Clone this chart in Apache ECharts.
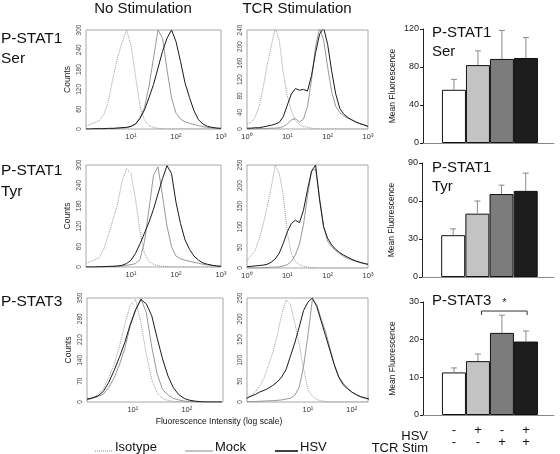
<!DOCTYPE html>
<html><head><meta charset="utf-8">
<script src="https://cdn.jsdelivr.net/npm/echarts@6.0.0/dist/echarts.min.js"></script>
<style>html,body{margin:0;padding:0;background:#fff}#c{width:560px;height:454px}</style>
</head><body><div id="c"></div>
<script>
// ---------- DATA ----------
// log10 fluorescence positions
const logX_0_3 = [0,0.1,0.2,0.3,0.4,0.5,0.6,0.7,0.8,0.9,1.0,1.1,1.2,1.3,1.4,1.5,1.6,1.7,1.8,1.9,2.0,2.1,2.2,2.3,2.4,2.5,2.6,2.7,2.8,2.9,3.0];
const logX_r3c1 = [0.15,0.25,0.35,0.45,0.55,0.65,0.75,0.85,0.95,1.05,1.15,1.25,1.35,1.45,1.55,1.65,1.75,1.85,1.95,2.05,2.15,2.25,2.35,2.45,2.55,2.65];
const logX_r3c2 = [-0.4,-0.3,-0.2,-0.1,0,0.1,0.2,0.3,0.4,0.5,0.6,0.7,0.8,0.9,1.0,1.1,1.2,1.3,1.4,1.5,1.6,1.7,1.8,1.9,2.0,2.1,2.2,2.3,2.4];

// P-STAT1 Ser, no stimulation
const serNoIso  = [10,14,20,26,45,85,155,215,262,300,255,160,70,25,10,5,2,1,0,0,0,0,0,0,0,0,0,0,0,0,0];
const serNoMock = [0,0,0,0,0,1,1,2,3,4,8,15,35,65,130,215,300,275,180,95,48,30,22,17,14,10,7,5,3,2,1];
const serNoHsv  = [0,0,1,1,1,2,2,3,4,5,8,15,32,58,95,135,185,235,275,300,265,205,140,95,55,28,15,8,5,3,2];
// P-STAT1 Ser, TCR stimulation
const serTcrIso  = [12,16,28,55,100,155,200,245,215,135,80,44,20,10,6,4,2,1,0,0,0,0,0,0,0,0,0,0,0,0,0];
const serTcrMock = [0,0,0,1,1,1,2,2,3,6,12,22,25,17,24,55,120,200,245,215,150,90,55,40,32,26,22,17,13,10,7];
const serTcrHsv  = [2,2,3,3,5,7,9,12,16,30,58,85,98,94,96,92,130,185,230,245,205,140,85,50,36,28,22,17,13,10,6];
// P-STAT1 Tyr, no stimulation
const tyrNoIso  = [12,16,22,28,55,95,140,185,250,290,275,200,105,40,17,8,4,2,1,0,0,0,0,0,0,0,0,0,0,0,0];
const tyrNoMock = [0,0,0,0,1,1,2,2,3,5,7,10,22,75,170,270,295,210,120,60,32,24,20,17,14,11,8,6,5,3,2];
const tyrNoHsv  = [0,0,0,1,1,2,2,3,5,10,20,40,68,100,132,170,215,260,298,275,190,128,80,52,32,20,12,8,5,3,2];
// P-STAT1 Tyr, TCR stimulation
const tyrTcrIso  = [19,30,42,70,105,150,195,250,230,175,85,35,16,8,4,2,1,0,0,0,0,0,0,0,0,0,0,0,0,0,0];
const tyrTcrMock = [0,0,0,0,1,1,2,2,3,5,8,16,32,58,105,175,235,240,170,100,65,52,42,35,28,23,19,16,13,11,9];
const tyrTcrHsv  = [3,4,5,6,7,9,14,22,36,60,88,108,116,110,140,190,235,250,165,100,72,56,45,37,31,26,21,17,14,11,9];
// P-STAT3, no stimulation
const s3NoIso  = [7,14,25,45,80,125,185,260,325,345,265,160,75,30,12,5,2,1,0,0,0,0,0,0,0,0];
const s3NoMock = [7,12,18,26,48,80,125,180,255,310,348,300,185,95,42,24,12,7,3,2,1,0,0,0,0,0];
const s3NoHsv  = [10,14,20,35,65,105,150,200,260,310,345,330,290,215,145,88,48,25,12,6,3,1,0,0,0,0];
// P-STAT3, TCR stimulation
const s3TcrIso  = [9,15,24,38,58,88,120,160,210,245,235,190,140,80,30,14,6,3,1,0,0,0,0,0,0,0,0,0,0];
const s3TcrMock = [1,1,1,2,2,3,3,4,5,7,9,16,35,85,160,245,235,200,170,130,90,62,46,34,24,17,12,9,7];
const s3TcrHsv  = [9,14,18,24,28,33,40,48,60,78,110,142,180,220,240,250,230,195,160,125,90,60,42,32,24,18,13,10,7];

// Bar charts: mean fluorescence and SD (upper error)
const barPos   = [0,1,2,3];
const serMean  = [56,82,88.5,89.5];
const serSd    = [11,15,30,21.5];
const tyrMean  = [33,50,65.5,68];
const tyrSd    = [5,10,7,14];
const s3Mean   = [11.3,14.3,21.8,19.5];
const s3Sd     = [1.2,1.9,4.7,2.8];
const hsvSigns = ['-','+','-','+'];
const tcrSigns = ['-','-','+','+'];
const sigBracket = [[1.15,3.05,27.6]];

const yTicksSer = {max:120, interval:40};
const yTicksTyr = {max:90, interval:30};
const yTicksS3  = {max:30, interval:10};

// ---------- STYLE / LAYOUT ----------
const FONT = '"Liberation Sans", Arial, Helvetica, sans-serif';
const sup = {'0':'\u2070','1':'\u00b9','2':'\u00b2','3':'\u00b3'};
const barColors = ['#ffffff','#c3c3c3','#7c7c7c','#1d1d1d'];

const panels = [
  {grid:{left:86,top:30,width:135,height:99}, xr:[0,3], y:{max:300,interval:60}, lab:[1,2,3], counts:true, x:logX_0_3, iso:serNoIso, mock:serNoMock, hsv:serNoHsv},
  {grid:{left:247,top:30,width:121,height:99}, xr:[0,3], y:{max:240,interval:40}, lab:[0,1,2,3], counts:false, x:logX_0_3, iso:serTcrIso, mock:serTcrMock, hsv:serTcrHsv},
  {grid:{left:86,top:165,width:135,height:102}, xr:[0,3], y:{max:300,interval:60}, lab:[1,2,3], counts:true, x:logX_0_3, iso:tyrNoIso, mock:tyrNoMock, hsv:tyrNoHsv},
  {grid:{left:247,top:165,width:121,height:103}, xr:[0,3], y:{max:250,interval:50}, lab:[0,1,2,3], counts:false, x:logX_0_3, iso:tyrTcrIso, mock:tyrTcrMock, hsv:tyrTcrHsv},
  {grid:{left:87,top:298,width:136,height:104}, xr:[0.15,2.67], y:{max:350,interval:70}, lab:[1,2], counts:true, x:logX_r3c1, iso:s3NoIso, mock:s3NoMock, hsv:s3NoHsv},
  {grid:{left:247,top:298,width:121,height:104}, xr:[-0.39,2.37], y:{max:250,interval:50}, lab:[1,2], counts:false, x:logX_r3c2, iso:s3TcrIso, mock:s3TcrMock, hsv:s3TcrHsv}
];
const bars = [
  {grid:{left:423,top:29,width:131,height:114}, mean:serMean, sd:serSd, y:yTicksSer, signs:false},
  {grid:{left:422,top:163,width:132,height:114}, mean:tyrMean, sd:tyrSd, y:yTicksTyr, signs:false},
  {grid:{left:423,top:302,width:131,height:113}, mean:s3Mean, sd:s3Sd, y:yTicksS3, signs:true}
];

const grids=[], xAxes=[], yAxes=[], series=[];
const pairs = (xs, ys) => xs.map((x,i)=>[x, ys[i]]);

panels.forEach((p,i)=>{
  grids.push(Object.assign({show:true, borderColor:'#a8a8a8', borderWidth:1, backgroundColor:'transparent'}, p.grid));
  xAxes.push({gridIndex:i, type:'value', min:p.xr[0], max:p.xr[1],
    axisLine:{show:false}, axisTick:{show:false}, splitLine:{show:false},
    axisLabel:{customValues:p.lab, formatter:v=>'10'+sup[String(Math.round(v))], fontSize:7.5, color:'#333', margin:4, fontFamily:FONT}});
  yAxes.push({gridIndex:i, type:'value', min:0, max:p.y.max, interval:p.y.interval,
    axisLine:{show:false, onZero:false}, axisTick:{show:false}, splitLine:{show:false},
    axisLabel:{rotate:90, fontSize:6.5, color:'#444', margin:3, fontFamily:FONT},
    name:p.counts?'Counts':'', nameLocation:'middle', nameRotate:90, nameGap:14,
    nameTextStyle:{fontSize:8.5, color:'#222', fontFamily:FONT}});
  series.push({type:'line', xAxisIndex:i, yAxisIndex:i, name:'Isotype', data:pairs(p.x,p.iso), symbol:'none', clip:true,
    lineStyle:{color:'#9a9a9a', width:1, type:[1,1]}, z:2});
  series.push({type:'line', xAxisIndex:i, yAxisIndex:i, name:'Mock', data:pairs(p.x,p.mock), symbol:'none', clip:true,
    lineStyle:{color:'#8c8c8c', width:0.9}, z:3});
  series.push({type:'line', xAxisIndex:i, yAxisIndex:i, name:'HSV', data:pairs(p.x,p.hsv), symbol:'none', clip:true,
    lineStyle:{color:'#1a1a1a', width:1}, z:4});
});

bars.forEach((b,j)=>{
  const gi = panels.length + j;
  grids.push(b.grid);
  xAxes.push({gridIndex:gi, type:'value', min:-1.29, max:4.17,
    axisLine:{show:true, onZero:false, lineStyle:{color:'#8a8a8a', width:1}}, axisTick:{show:false}, splitLine:{show:false},
    axisLabel: b.signs ? {customValues:barPos, formatter:v=>hsvSigns[Math.round(v)]+'\n'+tcrSigns[Math.round(v)],
      fontSize:13, lineHeight:12, color:'#111', margin:9, fontFamily:FONT} : {show:false}});
  yAxes.push({gridIndex:gi, type:'value', min:0, max:b.y.max, interval:b.y.interval,
    axisLine:{show:true, onZero:false, lineStyle:{color:'#222', width:1}}, axisTick:{show:true, length:3, lineStyle:{color:'#222'}},
    splitLine:{show:false}, axisLabel:{fontSize:9, color:'#222', margin:4, fontFamily:FONT},
    name:'Mean Fluorescence', nameLocation:'middle', nameRotate:90, nameGap:26,
    nameTextStyle:{fontSize:8.5, color:'#222', fontFamily:FONT}});
  series.push({type:'bar', xAxisIndex:gi, yAxisIndex:gi, barWidth:24,
    data:b.mean.map((m,k)=>({value:[barPos[k], m], itemStyle:{color:barColors[k]}})),
    itemStyle:{borderColor:'#111', borderWidth:1}, z:2});
  series.push({type:'custom', xAxisIndex:gi, yAxisIndex:gi, z:3,
    data:b.mean.map((m,k)=>[barPos[k], m, b.sd[k]]),
    renderItem:(params, api)=>{
      const x=api.value(0), m=api.value(1), e=api.value(2);
      const p0=api.coord([x,m]), p1=api.coord([x,m+e]);
      return {type:'group', children:[
        {type:'line', shape:{x1:p0[0],y1:p0[1],x2:p1[0],y2:p1[1]}, style:{stroke:'#8a8a8a', lineWidth:1}},
        {type:'line', shape:{x1:p1[0]-3,y1:p1[1],x2:p1[0]+3,y2:p1[1]}, style:{stroke:'#8a8a8a', lineWidth:1}}
      ]};
    }});
  if (b.signs) {
    series.push({type:'custom', xAxisIndex:gi, yAxisIndex:gi, z:4, data:sigBracket,
      renderItem:(params, api)=>{
        const a=api.coord([api.value(0), api.value(2)]), c=api.coord([api.value(1), api.value(2)]);
        return {type:'group', children:[
          {type:'polyline', shape:{points:[[a[0],a[1]+4],[a[0],a[1]],[c[0],c[1]],[c[0],c[1]+4]]}, style:{stroke:'#333', lineWidth:1, fill:null}},
          {type:'text', style:{text:'*', x:(a[0]+c[0])/2, y:a[1]-3, textAlign:'center', textVerticalAlign:'bottom', font:'11px '+FONT, fill:'#222'}}
        ]};
      }});
  }
});

const T = (text, x, y, size, align, extra) => Object.assign({type:'text', silent:true,
  style:{text, x, y, font:size+'px '+FONT, fill:'#111', textAlign:align||'left', textVerticalAlign:'middle'}}, extra||{});

const graphic = [
  T('No Stimulation', 143, 9, 15, 'center'),
  T('TCR Stimulation', 297, 9, 15, 'center'),
  T('P-STAT1', 1, 39, 15.5), T('Ser', 1, 59, 15.5),
  T('P-STAT1', 1, 171, 15.5), T('Tyr', 1, 192, 15.5),
  T('P-STAT3', 1, 302, 15.5),
  T('P-STAT1', 432, 33, 15), T('Ser', 432, 52, 15),
  T('P-STAT1', 432, 168, 15), T('Tyr', 432, 187, 15),
  T('P-STAT3', 432, 301, 15),
  T('Fluorescence Intensity (log scale)', 219, 422, 8.5, 'center'),
  T('HSV', 428, 436, 13, 'right'), T('TCR Stim', 428, 448, 13, 'right'),
  {type:'line', silent:true, shape:{x1:95,y1:451,x2:113,y2:451}, style:{stroke:'#888', lineWidth:1, lineDash:[1,1]}},
  T('Isotype', 115, 447, 13),
  {type:'line', silent:true, shape:{x1:185,y1:451,x2:213,y2:451}, style:{stroke:'#888', lineWidth:1}},
  T('Mock', 215, 447, 13),
  {type:'line', silent:true, shape:{x1:275,y1:451,x2:298,y2:451}, style:{stroke:'#111', lineWidth:1.6}},
  T('HSV', 300, 447, 13)
];

const chart = echarts.init(document.getElementById('c'), null, {renderer:'canvas'});
chart.setOption({animation:false, backgroundColor:'#fff', textStyle:{fontFamily:FONT},
  grid:grids, xAxis:xAxes, yAxis:yAxes, series, graphic});
</script></body></html>
